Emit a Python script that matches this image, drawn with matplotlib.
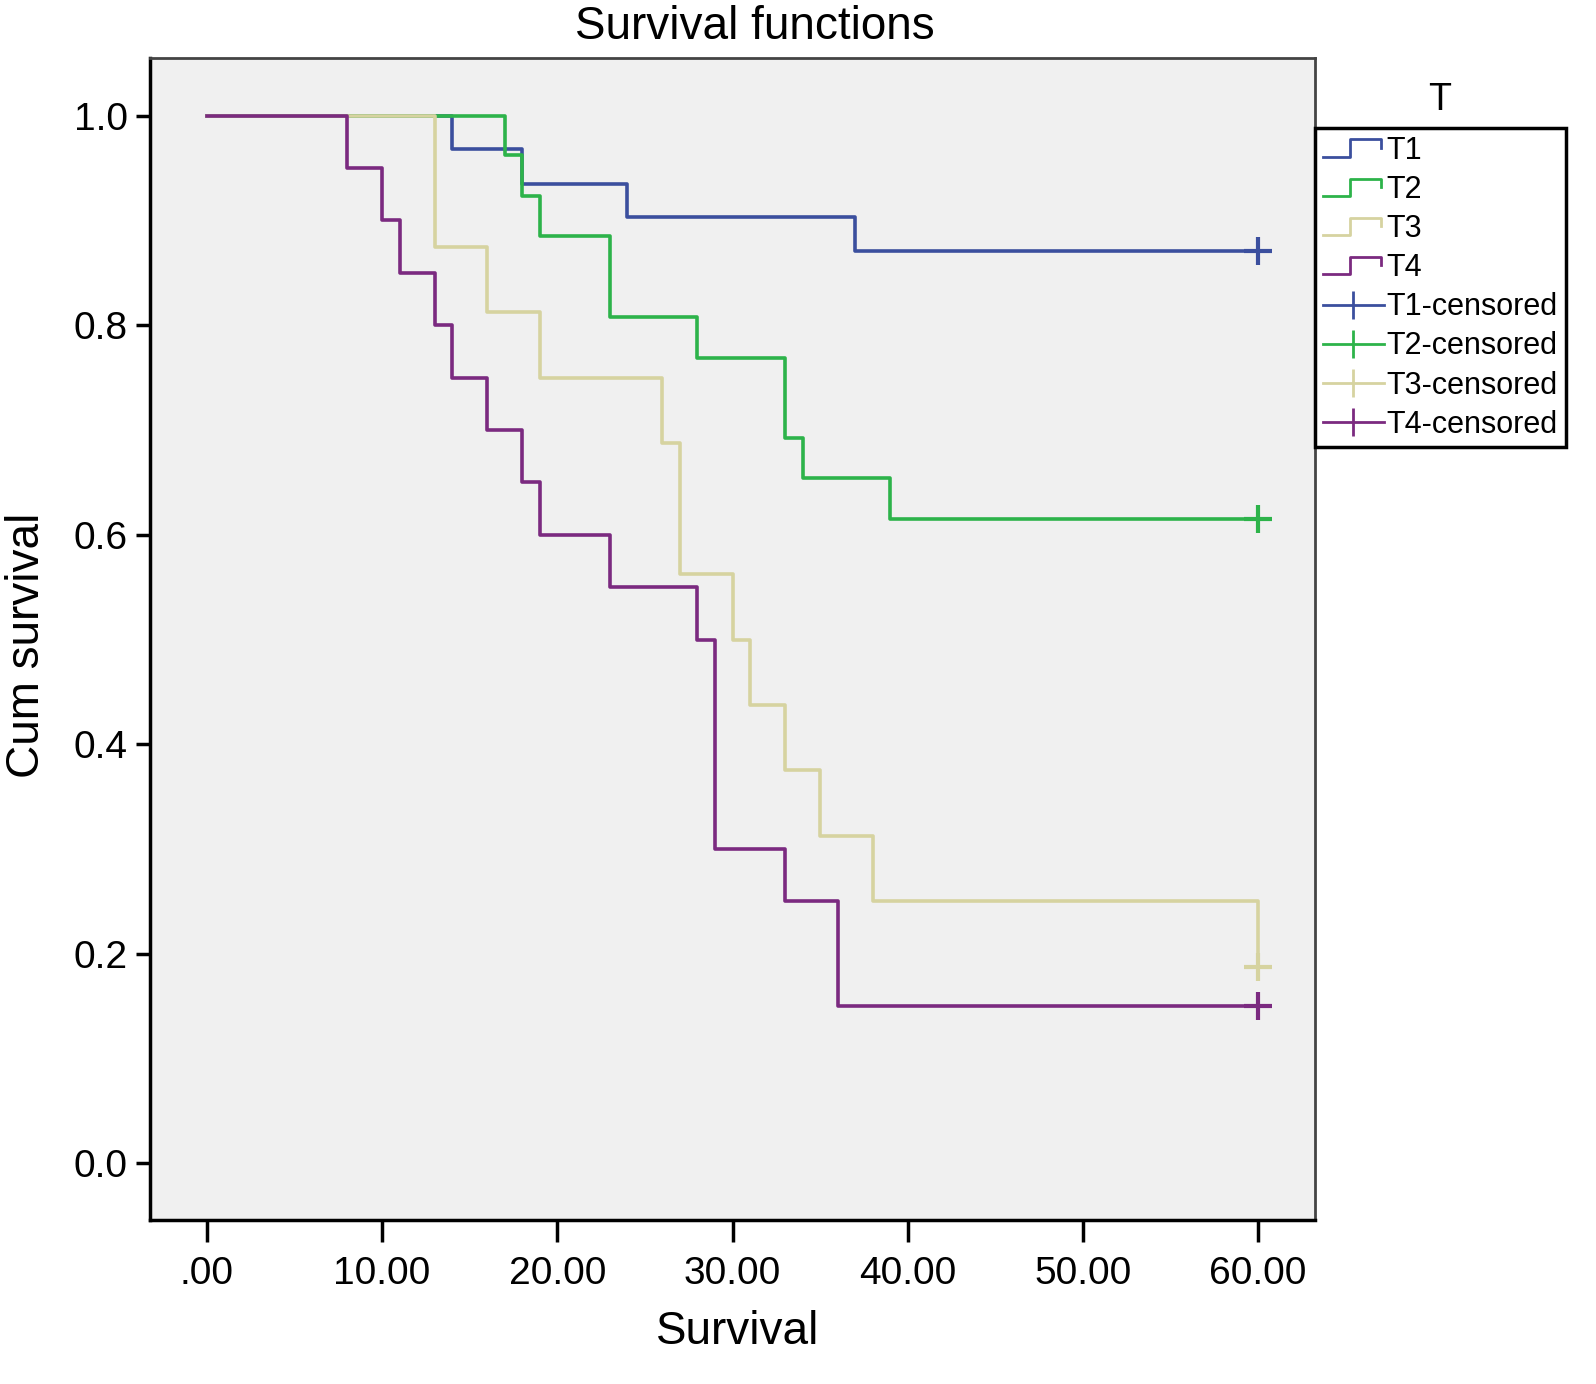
import matplotlib
matplotlib.use("Agg")
import matplotlib.pyplot as plt
from matplotlib.legend_handler import HandlerBase
from matplotlib.lines import Line2D

# Kaplan-Meier step data
t1_times = [0, 14, 18, 24, 37, 60]
t1_surv = [1.0, 0.968, 0.935, 0.903, 0.871, 0.871]

t2_times = [0, 17, 18, 19, 23, 28, 33, 34, 39, 60]
t2_surv = [1.0, 0.962, 0.923, 0.885, 0.808, 0.769, 0.692, 0.654, 0.615, 0.615]

t3_times = [0, 13, 16, 19, 26, 27, 30, 31, 33, 35, 38, 60]
t3_surv = [1.0, 0.875, 0.8125, 0.75, 0.6875, 0.5625, 0.5, 0.4375, 0.375, 0.3125, 0.25, 0.1875]

t4_times = [0, 8, 10, 11, 13, 14, 16, 18, 19, 23, 28, 29, 33, 36, 60]
t4_surv = [1.0, 0.95, 0.90, 0.85, 0.80, 0.75, 0.70, 0.65, 0.60, 0.55, 0.50, 0.30, 0.25, 0.15, 0.15]

censor_t = [60, 60, 60, 60]
censor_s = [0.871, 0.615, 0.1875, 0.15]

groups = ["T1", "T2", "T3", "T4"]
colors = ["#3b4f9e", "#2db34a", "#d6d3a0", "#7b2a80"]
xticks = [0, 10, 20, 30, 40, 50, 60]
xlabels = [".00", "10.00", "20.00", "30.00", "40.00", "50.00", "60.00"]
yticks = [0.0, 0.2, 0.4, 0.6, 0.8, 1.0]

plt.rcParams["font.family"] = ["Liberation Sans", "DejaVu Sans"]

W, H = 1596, 1384
fig = plt.figure(figsize=(W / 100, H / 100), dpi=100)
ax = fig.add_axes([150 / W, 1 - 1220 / H, (1315 - 150) / W, (1220 - 58) / H])
ax.set_facecolor("#f0f0f0")

all_times = [t1_times, t2_times, t3_times, t4_times]
all_surv = [t1_surv, t2_surv, t3_surv, t4_surv]
for i in range(4):
    ax.step(all_times[i], all_surv[i], where="post", color=colors[i], lw=2.6)
    ax.plot(censor_t[i], censor_s[i], marker="+", color=colors[i], ms=20, mew=3)

ax.set_xlim(-3.25, 63.25)
ax.set_ylim(-0.054, 1.055)
ax.set_xticks(xticks)
ax.set_xticklabels(xlabels)
ax.set_yticks(yticks)
ax.set_yticklabels(["%.1f" % v for v in yticks])
ax.tick_params(axis="x", direction="out", length=16, width=2.5, labelsize=28, pad=10)
ax.tick_params(axis="y", direction="out", length=10, width=2.5, labelsize=28, pad=6)
for side in ["left", "bottom"]:
    ax.spines[side].set_linewidth(2.5)
    ax.spines[side].set_color("black")
for side in ["top", "right"]:
    ax.spines[side].set_linewidth(2)
    ax.spines[side].set_color("#444444")

fig.text(755 / W, 1 - 27 / H, "Survival functions", ha="center", va="center", fontsize=33)
fig.text(738 / W, 1 - 1332 / H, "Survival", ha="center", va="center", fontsize=33)
fig.text(27 / W, 1 - 645 / H, "Cum survival", ha="center", va="center", fontsize=33, rotation=90)
fig.text(1440 / W, 1 - 100 / H, "T", ha="center", va="center", fontsize=27)


class StepHandler(HandlerBase):
    def create_artists(self, legend, orig_handle, xdescent, ydescent,
                       width, height, fontsize, trans):
        x0 = -xdescent
        y0 = -ydescent
        xs = [x0, x0 + 0.45 * width, x0 + 0.45 * width, x0 + 0.95 * width, x0 + 0.95 * width]
        ys = [y0 + 0.1 * height, y0 + 0.1 * height, y0 + 0.9 * height,
              y0 + 0.9 * height, y0 + 0.5 * height]
        ln = Line2D(xs, ys, color=orig_handle.get_color(), lw=2, transform=trans)
        return [ln]


handles = []
labels = []
for i in range(4):
    handles.append(Line2D([], [], color=colors[i]))
    labels.append(groups[i])
handler_map = {}
for h in handles:
    handler_map[h] = StepHandler()
for i in range(4):
    handles.append(Line2D([], [], color=colors[i], lw=2, marker="|", ms=20, mew=2))
    labels.append(groups[i] + "-censored")

leg = fig.legend(handles, labels, handler_map=handler_map,
                 loc="upper left", bbox_to_anchor=(1315 / W, 1 - 128 / H),
                 fontsize=22, frameon=True, fancybox=False, framealpha=1,
                 edgecolor="black", handlelength=2.0, handletextpad=0.1,
                 labelspacing=0.3, borderpad=0.25, borderaxespad=0)
leg.get_frame().set_linewidth(2.5)

fig.savefig("out.png", dpi=100)
